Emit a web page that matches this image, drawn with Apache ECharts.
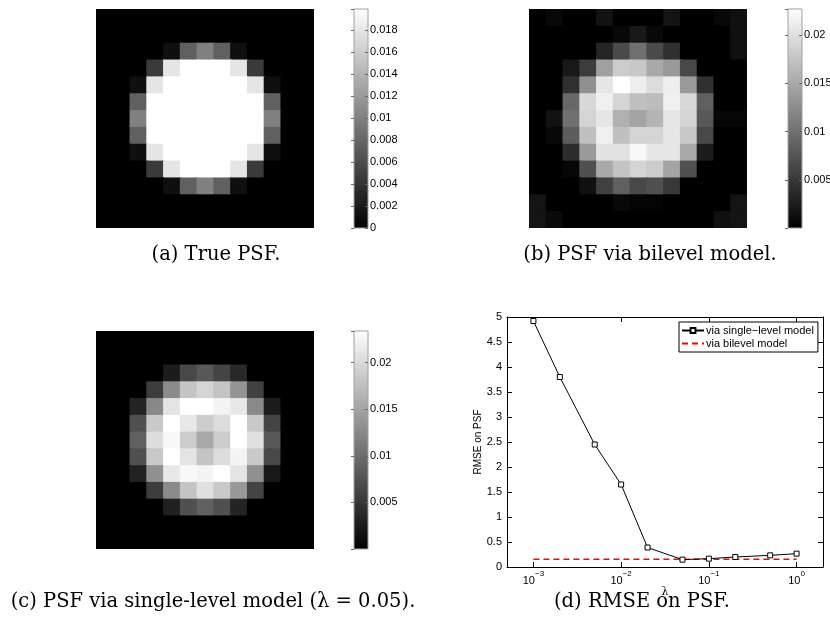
<!DOCTYPE html>
<html>
<head>
<meta charset="utf-8">
<title>PSF estimates</title>
<script src="https://cdn.jsdelivr.net/npm/echarts@6/dist/echarts.min.js"></script>
<style>
html, body { margin: 0; padding: 0; background: #fff; }
#main { width: 830px; height: 631px; }
</style>
</head>
<body>
<div id="main"></div>
<script>
// 13x13 pixel images, row 0 is the top row
const cells = ['0', '1', '2', '3', '4', '5', '6', '7', '8', '9', '10', '11', '12'];

const psfTrue = [
  [0, 0, 0, 0, 0, 0, 0, 0, 0, 0, 0, 0, 0],
  [0, 0, 0, 0, 0, 0, 0, 0, 0, 0, 0, 0, 0],
  [0, 0, 0, 0, 0.0012, 0.0075, 0.0100, 0.0075, 0.0012, 0, 0, 0, 0],
  [0, 0, 0, 0.0045, 0.0179, 0.0199, 0.0199, 0.0199, 0.0179, 0.0045, 0, 0, 0],
  [0, 0, 0.0012, 0.0179, 0.0199, 0.0199, 0.0199, 0.0199, 0.0199, 0.0179, 0.0012, 0, 0],
  [0, 0, 0.0075, 0.0199, 0.0199, 0.0199, 0.0199, 0.0199, 0.0199, 0.0199, 0.0075, 0, 0],
  [0, 0, 0.0100, 0.0199, 0.0199, 0.0199, 0.0199, 0.0199, 0.0199, 0.0199, 0.0100, 0, 0],
  [0, 0, 0.0075, 0.0199, 0.0199, 0.0199, 0.0199, 0.0199, 0.0199, 0.0199, 0.0075, 0, 0],
  [0, 0, 0.0012, 0.0179, 0.0199, 0.0199, 0.0199, 0.0199, 0.0199, 0.0179, 0.0012, 0, 0],
  [0, 0, 0, 0.0045, 0.0179, 0.0199, 0.0199, 0.0199, 0.0179, 0.0045, 0, 0, 0],
  [0, 0, 0, 0, 0.0012, 0.0075, 0.0100, 0.0075, 0.0012, 0, 0, 0, 0],
  [0, 0, 0, 0, 0, 0, 0, 0, 0, 0, 0, 0, 0],
  [0, 0, 0, 0, 0, 0, 0, 0, 0, 0, 0, 0, 0]
];

const psfBilevel = [
  [0, 0.0007, 0, 0, 0.0016, 0, 0, 0, 0.0018, 0, 0, 0.0007, 0.0014],
  [0, 0, 0, 0, 0, 0.0007, 0.0021, 0.0007, 0, 0, 0, 0, 0.0014],
  [0, 0, 0, 0, 0.0033, 0.0066, 0.0100, 0.0066, 0.0043, 0, 0, 0, 0.0014],
  [0, 0, 0.0021, 0.0053, 0.0142, 0.0182, 0.0178, 0.0150, 0.0137, 0.0064, 0, 0, 0],
  [0, 0, 0.0043, 0.0128, 0.0205, 0.0227, 0.0212, 0.0196, 0.0212, 0.0137, 0.0043, 0, 0],
  [0, 0, 0.0093, 0.0192, 0.0214, 0.0190, 0.0171, 0.0167, 0.0214, 0.0192, 0.0085, 0, 0],
  [0, 0.0016, 0.0100, 0.0189, 0.0205, 0.0157, 0.0146, 0.0160, 0.0205, 0.0189, 0.0078, 0.0005, 0.0005],
  [0, 0.0007, 0.0082, 0.0171, 0.0214, 0.0171, 0.0189, 0.0189, 0.0205, 0.0178, 0.0064, 0, 0],
  [0, 0, 0.0039, 0.0137, 0.0201, 0.0201, 0.0221, 0.0205, 0.0205, 0.0150, 0.0025, 0, 0],
  [0, 0, 0.0005, 0.0071, 0.0150, 0.0174, 0.0189, 0.0182, 0.0146, 0.0071, 0, 0, 0],
  [0, 0, 0, 0.0014, 0.0057, 0.0085, 0.0064, 0.0071, 0.0050, 0, 0, 0, 0],
  [0.0018, 0, 0, 0, 0, 0.0007, 0.0004, 0.0004, 0, 0, 0, 0, 0.0018],
  [0.0018, 0.0009, 0, 0, 0, 0, 0, 0, 0, 0, 0, 0.0014, 0.0018]
];

const psfSingle = [
  [0, 0, 0, 0, 0, 0, 0, 0, 0, 0, 0, 0, 0],
  [0, 0, 0, 0, 0, 0, 0, 0, 0, 0, 0, 0, 0],
  [0, 0, 0, 0, 0.0026, 0.0066, 0.0081, 0.0062, 0.0037, 0, 0, 0, 0],
  [0, 0, 0, 0.0055, 0.0128, 0.0180, 0.0195, 0.0180, 0.0136, 0.0059, 0, 0, 0],
  [0, 0, 0.0033, 0.0125, 0.0209, 0.0234, 0.0234, 0.0224, 0.0213, 0.0127, 0.0026, 0, 0],
  [0, 0, 0.0073, 0.0184, 0.0234, 0.0213, 0.0187, 0.0202, 0.0234, 0.0184, 0.0062, 0, 0],
  [0, 0, 0.0088, 0.0202, 0.0228, 0.0187, 0.0154, 0.0187, 0.0234, 0.0206, 0.0081, 0, 0],
  [0, 0, 0.0073, 0.0184, 0.0234, 0.0209, 0.0180, 0.0202, 0.0224, 0.0184, 0.0066, 0, 0],
  [0, 0, 0.0031, 0.0132, 0.0213, 0.0228, 0.0224, 0.0234, 0.0209, 0.0132, 0.0022, 0, 0],
  [0, 0, 0, 0.0055, 0.0128, 0.0180, 0.0206, 0.0184, 0.0140, 0.0062, 0, 0, 0],
  [0, 0, 0, 0, 0.0029, 0.0073, 0.0088, 0.0073, 0.0033, 0, 0, 0, 0],
  [0, 0, 0, 0, 0, 0, 0, 0, 0, 0, 0, 0, 0],
  [0, 0, 0, 0, 0, 0, 0, 0, 0, 0, 0, 0, 0]
];

// colour limits and colorbar tick step of each image
const limTrue = [0, 0.0199], stepTrue = 0.002;
const limBilevel = [0, 0.0227], stepBilevel = 0.005;
const limSingle = [0, 0.0234], stepSingle = 0.005;

// RMSE curve
const lambdas = [0.001, 0.002, 0.005, 0.01, 0.02, 0.05, 0.1, 0.2, 0.5, 1];
const rmseSingle = [4.92, 3.80, 2.45, 1.65, 0.39, 0.147, 0.167, 0.20, 0.233, 0.267];
const bilevelLambdas = [0.001, 1];
const rmseBilevel = [0.153, 0.153];
const rmseTicks = { min: 0, max: 5, step: 0.5 };
const lambdaLim = [0.0005, 2];

const SANS = '"Liberation Sans", Arial, sans-serif';
const SERIF = '"DejaVu Serif", serif';

function toCells(m) {
  const out = [];
  m.forEach((row, r) => row.forEach((v, c) => out.push([c, r, v])));
  return out;
}

// one image pixel, drawn a little wider so neighbours fully overlap (no seams)
function pixel(params, api) {
  const p = api.coord([api.value(0), api.value(1)]);
  const s = api.size([1, 1]);
  return {
    type: 'rect',
    shape: { x: p[0] - s[0] / 2, y: p[1] - s[1] / 2, width: s[0] + 1.5, height: s[1] + 1.5 },
    style: { fill: api.visual('color') }
  };
}

const panels = [
  { name: 'true', img: psfTrue, lim: limTrue, step: stepTrue, zero: true,
    box: { left: 96, top: 9, width: 218, height: 219 }, bar: { left: 354, top: 9, width: 14, height: 219 } },
  { name: 'bilevel', img: psfBilevel, lim: limBilevel, step: stepBilevel, zero: false,
    box: { left: 529, top: 9, width: 218, height: 219 }, bar: { left: 788, top: 9, width: 14, height: 219 } },
  { name: 'single', img: psfSingle, lim: limSingle, step: stepSingle, zero: false,
    box: { left: 96, top: 331, width: 218, height: 218 }, bar: { left: 354, top: 331, width: 14, height: 218 } }
];

const grid = [], xAxis = [], yAxis = [], series = [], visualMap = [];

panels.forEach(p => {
  const g = grid.length;
  grid.push(Object.assign({ outerBoundsMode: 'none', show: true, backgroundColor: '#000', borderWidth: 0 }, p.box));
  xAxis.push({ type: 'category', gridIndex: g, data: cells, show: false });
  yAxis.push({ type: 'category', gridIndex: g, data: cells, inverse: true, show: false });
  series.push({
    type: 'custom', name: p.name, xAxisIndex: xAxis.length - 1, yAxisIndex: yAxis.length - 1,
    data: toCells(p.img), encode: { x: 0, y: 1 }, renderItem: pixel, silent: true, clip: true
  });
  visualMap.push({
    type: 'continuous', show: false, seriesIndex: series.length - 1, dimension: 2,
    min: p.lim[0], max: p.lim[1], inRange: { color: ['#000000', '#ffffff'] }
  });

  // colorbar
  const b = grid.length;
  grid.push(Object.assign({
    outerBoundsMode: 'none', show: true, borderColor: '#a0a0a0', borderWidth: 1,
    backgroundColor: new echarts.graphic.LinearGradient(0, 0, 0, 1, [
      { offset: 0, color: '#ffffff' }, { offset: 1, color: '#000000' }
    ])
  }, p.bar));
  xAxis.push({ type: 'value', gridIndex: b, show: false, min: 0, max: 1 });
  ['right', 'left'].forEach(pos => {
    yAxis.push({
      type: 'value', gridIndex: b, position: pos, min: p.lim[0], max: p.lim[1], interval: p.step,
      axisLine: { show: false, onZero: false },
      axisTick: { show: true, inside: pos === 'right', length: 3, lineStyle: { color: '#666' } },
      axisLabel: {
        show: pos === 'right', margin: 2, color: '#000', fontSize: 11, fontFamily: SANS,
        showMinLabel: p.zero, showMaxLabel: false
      },
      splitLine: { show: false }
    });
  });
});

// RMSE plot
const d = grid.length;
grid.push({ left: 507, top: 317, width: 316, height: 250, outerBoundsMode: 'none' });
function axisBlack() { return { show: true, onZero: false, lineStyle: { color: '#000', width: 1 } }; }
function ticksIn() { return { show: true, inside: true, length: 5, lineStyle: { color: '#000' } }; }

function powLabel(v) {
  const e = Math.round(Math.log10(v));
  if (Math.abs(Math.log10(v) - e) > 1e-6) return '';
  return '{b|10}{e|' + (e < 0 ? '\u2212' + (-e) : e) + '}';
}

const xd = xAxis.length;
xAxis.push({
  type: 'log', gridIndex: d, min: lambdaLim[0], max: lambdaLim[1], logBase: 10,
  name: '\u03bb', nameLocation: 'middle', nameGap: 16,
  nameTextStyle: { fontFamily: SERIF, fontSize: 11, color: '#000' },
  axisLine: axisBlack(), axisTick: ticksIn(), splitLine: { show: false },
  axisLabel: {
    margin: 3, formatter: powLabel, color: '#000',
    rich: {
      b: { fontSize: 11, fontFamily: SANS, lineHeight: 16, verticalAlign: 'bottom', color: '#000' },
      e: { fontSize: 8, fontFamily: SANS, lineHeight: 8, verticalAlign: 'top', color: '#000' }
    }
  }
});
xAxis.push({
  type: 'log', gridIndex: d, position: 'top', min: lambdaLim[0], max: lambdaLim[1], logBase: 10,
  axisLine: axisBlack(), axisTick: ticksIn(), axisLabel: { show: false }, splitLine: { show: false }
});
const yd = yAxis.length;
yAxis.push({
  type: 'value', gridIndex: d, min: rmseTicks.min, max: rmseTicks.max, interval: rmseTicks.step,
  name: 'RMSE on PSF', nameLocation: 'middle', nameGap: 23,
  nameTextStyle: { fontFamily: SANS, fontSize: 10, color: '#000' },
  axisLine: axisBlack(), axisTick: ticksIn(), splitLine: { show: false },
  axisLabel: { margin: 5, color: '#000', fontSize: 11, fontFamily: SANS }
});
yAxis.push({
  type: 'value', gridIndex: d, position: 'right', min: rmseTicks.min, max: rmseTicks.max, interval: rmseTicks.step,
  axisLine: axisBlack(), axisTick: ticksIn(), axisLabel: { show: false }, splitLine: { show: false }
});

const nameSingle = 'via single\u2212level model';
const nameBilevel = 'via bilevel model';

series.push({
  type: 'line', name: nameSingle, xAxisIndex: xd, yAxisIndex: yd,
  data: lambdas.map((l, i) => [l, rmseSingle[i]]),
  symbol: 'rect', symbolSize: 5, showAllSymbol: true,
  lineStyle: { color: '#000', width: 1 },
  itemStyle: { color: '#fff', borderColor: '#000', borderWidth: 1 },
  emphasis: { disabled: true }, z: 3
});
series.push({
  type: 'line', name: nameBilevel, xAxisIndex: xd, yAxisIndex: yd,
  data: bilevelLambdas.map((l, i) => [l, rmseBilevel[i]]),
  symbol: 'none',
  lineStyle: { color: '#ff0000', width: 1.5, type: [6, 4] },
  itemStyle: { color: '#ff0000' },
  emphasis: { disabled: true }, z: 2
});

const captions = [
  { text: '(a) True PSF.', x: 216, y: 255 },
  { text: '(b) PSF via bilevel model.', x: 650, y: 255 },
  { text: '(c) PSF via single-level model (\u03bb = 0.05).', x: 213, y: 602 },
  { text: '(d) RMSE on PSF.', x: 642, y: 602 }
];

const chart = echarts.init(document.getElementById('main'));
chart.setOption({
  animation: false,
  backgroundColor: '#fff',
  grid, xAxis, yAxis, series, visualMap,
  legend: {
    data: [
      { name: nameSingle },
      { name: nameBilevel, itemStyle: { opacity: 0 } }
    ],
    orient: 'vertical', left: 679, top: 322,
    padding: [3, 4, 3, 2], itemGap: 2, itemWidth: 22, itemHeight: 6,
    borderColor: '#000', borderWidth: 1, borderRadius: 0, backgroundColor: '#fff',
    textStyle: { fontFamily: SANS, fontSize: 11, color: '#000', padding: [0, 0, 0, -3] },
    selectedMode: false
  },
  graphic: captions.map(c => ({
    type: 'text', x: c.x, y: c.y, silent: true,
    style: {
      text: c.text, fill: '#000', font: '19.5px ' + SERIF,
      align: 'center', verticalAlign: 'middle', textAlign: 'center', textVerticalAlign: 'middle'
    }
  }))
});
</script>
</body>
</html>
